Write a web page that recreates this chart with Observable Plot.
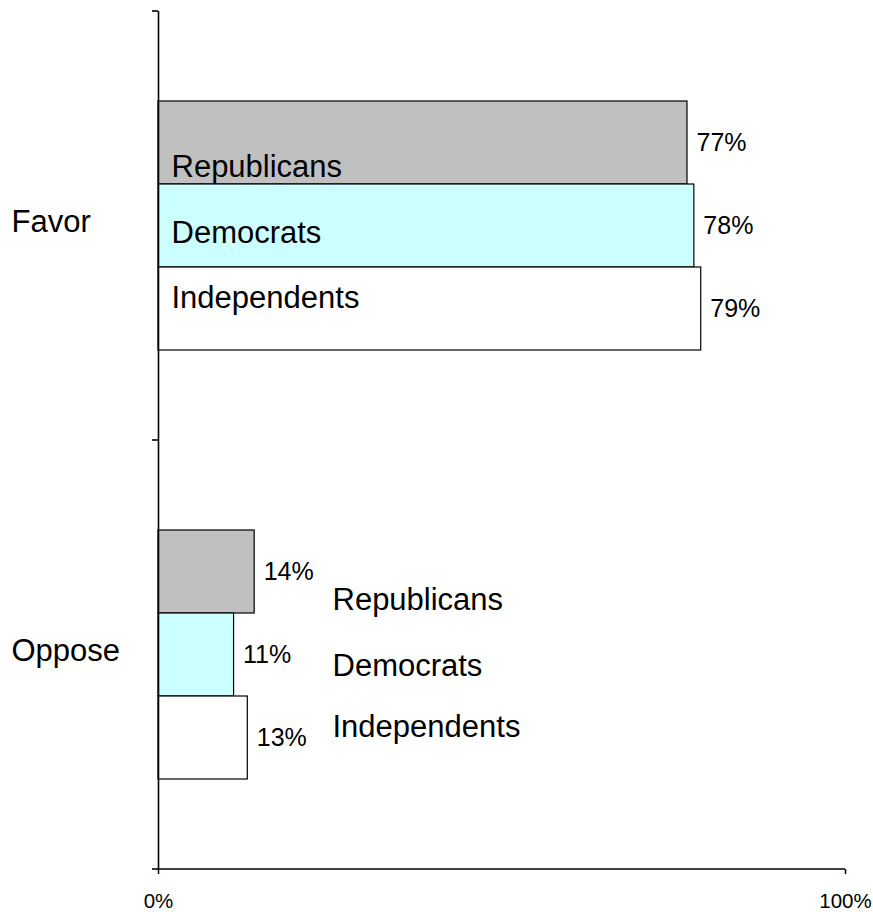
<!DOCTYPE html>
<html>
<head>
<meta charset="utf-8">
<script src="https://cdn.jsdelivr.net/npm/d3@7"></script>
<script src="https://cdn.jsdelivr.net/npm/@observablehq/plot@0.6"></script>
<style>
  html, body { margin: 0; padding: 0; background: #fff; }
  #chart { width: 873px; height: 912px; }
</style>
</head>
<body>
<div id="chart"></div>
<script>
// ---- data ----
const groups = ["Favor", "Oppose"];
const parties = ["Republicans", "Democrats", "Independents"];
const favorValues = [77, 78, 79];
const opposeValues = [14, 11, 13];
const partyColors = ["#C0C0C0", "#CCFFFF", "#FFFFFF"];
const xTicks = [0, 100];

const rows = [];
parties.forEach((p, i) => rows.push({group: "Favor", party: p, value: favorValues[i]}));
parties.forEach((p, i) => rows.push({group: "Oppose", party: p, value: opposeValues[i]}));

// label styling offsets (per group, per party)
const nameLabelStyle = {
  Favor:  {dx: 13,  dy: [24, 7, -11]},
  Oppose: {dx: 174, dy: [28, 11, -11]}
};

const nameMarks = [];
groups.forEach(g => {
  parties.forEach((p, i) => {
    nameMarks.push(Plot.text(rows.filter(d => d.group === g && d.party === p), {
      fy: "group", y: "party", text: "party",
      frameAnchor: "left", textAnchor: "start",
      dx: nameLabelStyle[g].dx, dy: nameLabelStyle[g].dy[i],
      fontSize: 31, fill: "#000"
    }));
  });
});

const plot = Plot.plot({
  width: 873,
  height: 912,
  marginLeft: 158,
  marginRight: 28,
  marginTop: 10,
  marginBottom: 43,
  style: {fontFamily: "'Liberation Sans', Arial, Helvetica, sans-serif", background: "#fff", color: "#000"},
  x: {domain: [0, 100], label: null},
  y: {domain: parties, paddingInner: 0, paddingOuter: 1.0565, axis: null, label: null},
  fy: {domain: groups, padding: 0, label: null},
  color: {domain: parties, range: partyColors},
  marks: [
    Plot.barX(rows, {fy: "group", y: "party", x: "value", fill: "party", stroke: "#000", strokeWidth: 1.2}),
    Plot.text(rows, {fy: "group", y: "party", x: "value", text: d => d.value + "%",
      textAnchor: "start", dx: 9, fontSize: 25, fill: "#000"}),
    ...nameMarks,
    Plot.ruleX([0], {stroke: "#000", strokeWidth: 1.6}),
    Plot.axisFy({anchor: "left", tickSize: 0, tickPadding: 147, textAnchor: "start", fontSize: 31, dy: -4, label: null}),
    Plot.axisX({anchor: "bottom", ticks: xTicks, tickFormat: d => d + "%", tickSize: 5, tickPadding: 19,
      fontSize: 20.5, strokeWidth: 1.5, label: null})
  ]
});

document.getElementById("chart").appendChild(plot);

// axis line along bottom and category boundary ticks, via the plot's own scales
const xs = plot.scale("x");
const fys = plot.scale("fy");
const svg = d3.select(plot);
const g = svg.append("g").attr("stroke", "#000").attr("stroke-width", 1.6);
const yBottom = fys.range[1];
g.append("line")
  .attr("x1", xs.apply(0)).attr("x2", xs.apply(100))
  .attr("y1", yBottom).attr("y2", yBottom);
const bounds = new Set();
fys.domain.forEach(d => { bounds.add(fys.apply(d)); bounds.add(fys.apply(d) + fys.bandwidth); });
bounds.forEach(yv => {
  g.append("line")
    .attr("x1", xs.apply(0) - 6).attr("x2", xs.apply(0))
    .attr("y1", yv).attr("y2", yv);
});
</script>
</body>
</html>
